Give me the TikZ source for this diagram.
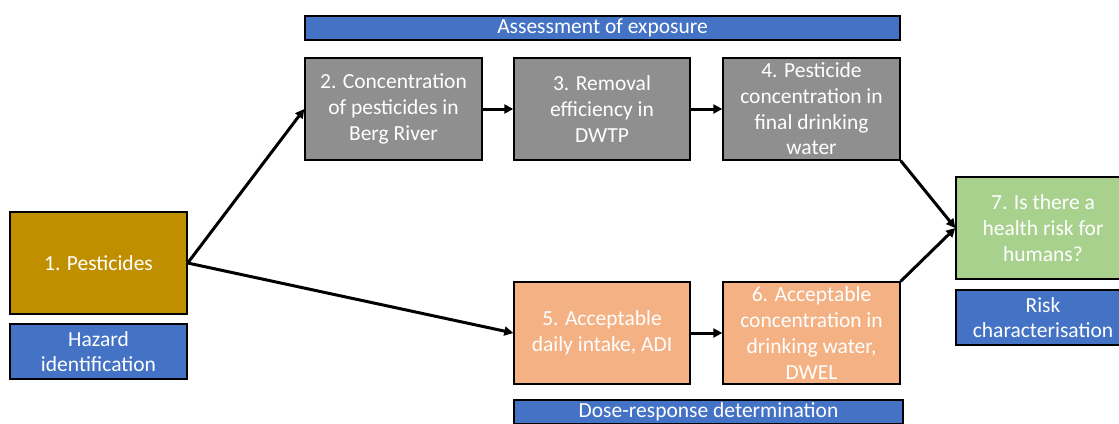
\documentclass[tikz,border=0pt]{standalone}
\usepackage{fontspec}
\setmainfont{Carlito}
\usetikzlibrary{arrows.meta}
\definecolor{goldb}{HTML}{BF8F00}
\definecolor{grayb}{HTML}{8F8F8F}
\definecolor{orangeb}{HTML}{F4B183}
\definecolor{greenb}{HTML}{A9D18E}
\definecolor{blueb}{HTML}{4472C4}
\begin{document}
\begin{tikzpicture}[x=1pt,y=-1pt,
  box/.style={draw=black, line width=1.4pt, text=white, align=center, inner sep=0pt,
    font=\fontsize{21.5}{25.7}\selectfont, minimum width=177pt, minimum height=102pt},
  label/.style={box, minimum height=55pt},
  banner/.style={box, minimum height=24pt, fill=blueb},
  conn/.style={line width=3pt, -{Triangle[length=9pt,width=9pt]}}]
\useasboundingbox (0,0) rectangle (1119,423);
\clip (0,0) rectangle (1119,423);
\node[box, fill=goldb] (n1) at (98.5,263) {1. Pesticides};
\node[label, fill=blueb] (haz) at (98.5,351.5) {Hazard\\identification};
\node[banner, minimum width=595pt] (expo) at (602.5,28) {Assessment of exposure};
\node[box, fill=grayb] (n2) at (393.5,109) {2. Concentration\\of pesticides in\\Berg River};
\node[box, fill=grayb, minimum width=176pt] (n3) at (602,109) {3. Removal\\efficiency in\\DWTP};
\node[box, fill=grayb] (n4) at (811.5,109) {4. Pesticide\\concentration in\\final drinking\\water};
\node[box, fill=orangeb, minimum width=176pt] (n5) at (602,333) {5. Acceptable\\daily intake, ADI};
\node[box, fill=orangeb] (n6) at (811.5,333) {6. Acceptable\\concentration in\\drinking water,\\DWEL};
\node[box, fill=greenb, minimum width=174pt] (n7) at (1043,228) {7. Is there a\\health risk for\\humans?};
\node[label, fill=blueb, minimum width=174pt] (risk) at (1043,317.5) {Risk\\characterisation};
\node[banner, minimum width=389pt] (dose) at (708.5,412) {Dose-response determination};
\draw[conn] (n1.east) -- (n2.west);
\draw[conn] (n1.east) -- (n5.west);
\draw[conn] (n2.east) -- (n3.west);
\draw[conn] (n3.east) -- (n4.west);
\draw[conn] (n5.east) -- (n6.west);
\draw[conn] (n4.south east) -- (n7.west);
\draw[conn] (n6.north east) -- (n7.west);
\end{tikzpicture}
\end{document}
